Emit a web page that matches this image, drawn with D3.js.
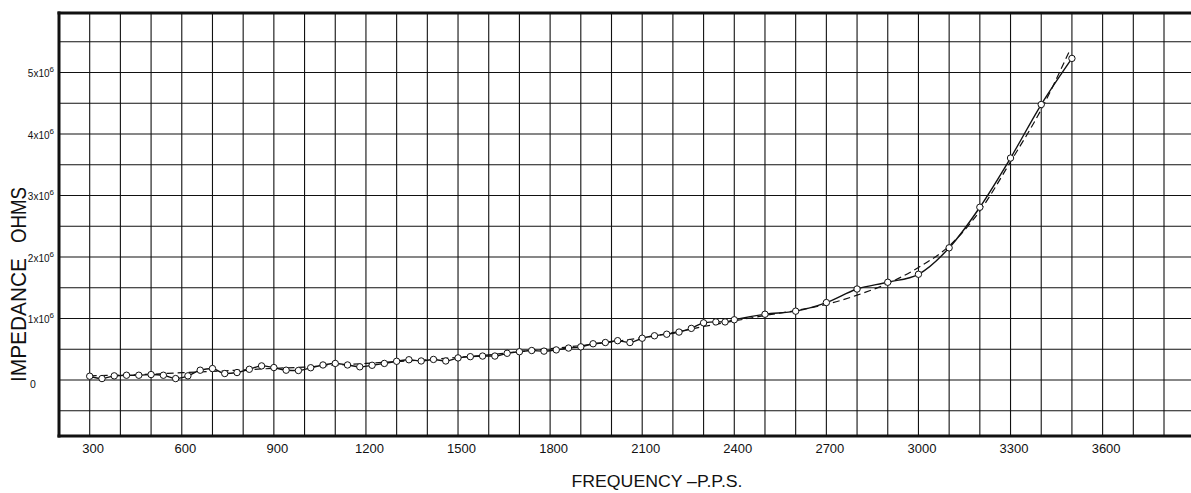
<!DOCTYPE html>
<html><head><meta charset="utf-8">
<script src="https://cdn.jsdelivr.net/npm/d3@7"></script>
<style>body{margin:0;background:#fff;} svg{display:block;}</style>
</head><body>
<svg id="chart" width="1191" height="493"></svg>
<script>
// Measured points: frequency (p.p.s.) and impedance (x10^6 ohms)
const freq = [300,340,380,420,460,500,540,580,620,660,700,740,780,820,860,900,
  940,980,1020,1060,1100,1140,1180,1220,1260,1300,1340,1380,1420,1460,1500,1540,
  1580,1620,1660,1700,1740,1780,1820,1860,1900,1940,1980,2020,2060,2100,2140,2180,
  2220,2260,2300,2340,2370,2400,2500,2600,2700,2800,2900,3000,3100,3200,3300,3400,3500];
const impedance = [0.062,0.024,0.068,0.078,0.078,0.089,0.078,0.024,0.068,0.16,0.187,0.106,0.122,0.175,0.23,0.203,
  0.16,0.155,0.20,0.245,0.27,0.245,0.215,0.24,0.27,0.305,0.33,0.31,0.335,0.31,0.36,0.38,
  0.39,0.39,0.435,0.46,0.48,0.47,0.49,0.52,0.54,0.59,0.61,0.64,0.61,0.68,0.72,0.745,
  0.78,0.84,0.93,0.945,0.945,0.98,1.07,1.12,1.26,1.48,1.59,1.72,2.15,2.81,3.61,4.48,5.23];

// Smooth (dashed) fitted curve
const fitFreq = [300,400,500,600,700,800,900,1000,1100,1200,1300,1400,1500,1600,1700,1800,1900,
  2000,2100,2200,2300,2400,2500,2600,2700,2800,2900,3000,3100,3200,3300,3400,3490];
const fitImpedance = [0.07,0.08,0.095,0.12,0.14,0.165,0.19,0.21,0.24,0.27,0.30,0.33,0.37,0.41,0.46,0.51,0.56,
  0.62,0.69,0.77,0.87,0.96,1.05,1.13,1.23,1.38,1.57,1.83,2.18,2.75,3.55,4.40,5.33];

const xTickValues = [300,600,900,1200,1500,1800,2100,2400,2700,3000,3300,3600];
const xTickLabels = ["300","600","900","1200","1500","1800","2100","2400","2700","3000","3300","3600"];
const yTickValues = [0,1,2,3,4,5];
const yTickLabels = ["0","1x10","2x10","3x10","4x10","5x10"];
const yTickExp = ["","6","6","6","6","6"];
const xTitle = "FREQUENCY \u2013P.P.S.";
const yTitleParts = ["IMPEDANCE","OHMS"];

const svg = d3.select("#chart");
const W = 1191, H = 493;
const x = d3.scaleLinear().domain([200, 3900]).range([59, 1194.7]);
const y = d3.scaleLinear().domain([-0.91, 5.97]).range([436, 12.9]);

const ink = "#111";
const font = "'Liberation Sans', Arial, sans-serif";
// grid
const g = svg.append("g");
g.selectAll("line.v").data(d3.range(300, 3901, 100)).join("line")
  .attr("x1", d => x(d)).attr("x2", d => x(d))
  .attr("y1", y.range()[1]).attr("y2", y.range()[0])
  .attr("stroke", ink).attr("stroke-width", 1.1);
g.selectAll("line.h").data(d3.range(-0.5, 5.6, 0.5)).join("line")
  .attr("x1", x(200)).attr("x2", W)
  .attr("y1", d => y(d)).attr("y2", d => y(d))
  .attr("stroke", ink).attr("stroke-width", 1.1);

// frame (left, top, bottom)
svg.append("line").attr("x1", x(200)).attr("x2", x(200))
  .attr("y1", y.range()[1] - 1.5).attr("y2", y.range()[0] + 1.5)
  .attr("stroke", ink).attr("stroke-width", 3);
svg.append("line").attr("x1", x(200) - 1.5).attr("x2", W)
  .attr("y1", y.range()[1]).attr("y2", y.range()[1])
  .attr("stroke", ink).attr("stroke-width", 3);
svg.append("line").attr("x1", x(200) - 1.5).attr("x2", W)
  .attr("y1", y.range()[0]).attr("y2", y.range()[0])
  .attr("stroke", ink).attr("stroke-width", 3);

// x axis labels
const xAxis = d3.axisBottom(x).tickValues(xTickValues)
  .tickFormat((d, i) => xTickLabels[i]).tickSize(0).tickPadding(8);
const xa = svg.append("g").attr("transform", `translate(0,${y.range()[0]})`).call(xAxis);
xa.select(".domain").remove();
xa.selectAll("text").attr("dx", 3)
  .attr("font-family", font)
  .attr("font-size", 13).attr("fill", ink);

// y labels
const yl = svg.append("g").attr("font-family", font).attr("fill", ink);
yTickValues.forEach((v, i) => {
  if (yTickExp[i] === "") {
    yl.append("text").attr("x", 33).attr("y", y(v) + 8).attr("text-anchor", "middle")
      .attr("font-size", 10.5).text(yTickLabels[i]);
  } else {
    const t = yl.append("text").attr("x", 54).attr("y", y(v) + 4.5).attr("text-anchor", "end")
      .attr("font-size", 10);
    t.append("tspan").text(yTickLabels[i]);
    t.append("tspan").attr("dy", -5).attr("font-size", 8).text(yTickExp[i]);
  }
});

// titles
svg.append("text").attr("x", 657).attr("y", 487).attr("text-anchor", "middle")
  .attr("font-family", font).attr("font-size", 16)
  .attr("textLength", 171).attr("lengthAdjust", "spacingAndGlyphs")
  .attr("fill", ink).text(xTitle);
svg.append("text").attr("transform", "translate(26,382) rotate(-90)")
  .attr("font-family", font).attr("font-size", 22)
  .attr("textLength", 124).attr("lengthAdjust", "spacingAndGlyphs")
  .attr("fill", ink).text(yTitleParts[0]);
svg.append("text").attr("transform", "translate(26,243) rotate(-90)")
  .attr("font-family", font).attr("font-size", 22)
  .attr("textLength", 56).attr("lengthAdjust", "spacingAndGlyphs")
  .attr("fill", ink).text(yTitleParts[1]);

// dashed fitted curve
const fit = fitFreq.map((f, i) => [f, fitImpedance[i]]);
svg.append("path").datum(fit)
  .attr("d", d3.line().x(d => x(d[0])).y(d => y(d[1])).curve(d3.curveMonotoneX))
  .attr("fill", "none").attr("stroke", ink).attr("stroke-width", 1.2)
  .attr("stroke-dasharray", "7,4");

// measured curve
const pts = freq.map((f, i) => [f, impedance[i]]);
svg.append("path").datum(pts)
  .attr("d", d3.line().x(d => x(d[0])).y(d => y(d[1])).curve(d3.curveMonotoneX))
  .attr("fill", "none").attr("stroke", ink).attr("stroke-width", 1.4);
svg.append("g").selectAll("circle").data(pts).join("circle")
  .attr("cx", d => x(d[0])).attr("cy", d => y(d[1])).attr("r", 3.2)
  .attr("fill", "#fff").attr("stroke", ink).attr("stroke-width", 1);
</script>
</body></html>
